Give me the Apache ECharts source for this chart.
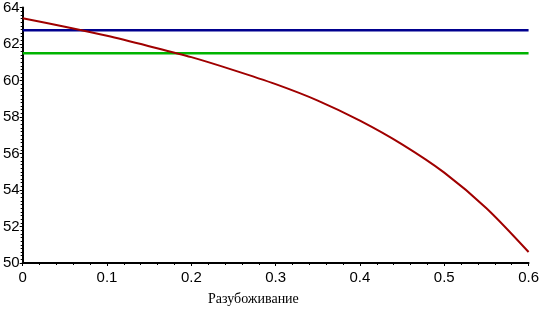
<!DOCTYPE html>
<html>
<head>
<meta charset="utf-8">
<script src="https://cdn.jsdelivr.net/npm/echarts@6/dist/echarts.min.js"></script>
<style>
  html, body { margin: 0; padding: 0; background: #fff; }
  #chart { width: 542px; height: 310px; }
</style>
</head>
<body>
<div id="chart"></div>
<script>
  // дробь разубоживания и значения кривой
  const dilution = [0, 0.05, 0.1, 0.15, 0.2, 0.25, 0.3, 0.35, 0.4, 0.45, 0.5, 0.55, 0.6];
  const curveValues = [63.41, 62.95, 62.45, 61.88, 61.28, 60.57, 59.8, 58.9, 57.8, 56.5, 54.95, 53.0, 50.6];
  const blueLevel = [62.75, 62.75];
  const greenLevel = [61.5, 61.5];
  const levelX = [0, 0.6];
  const xTicks = [0, 0.1, 0.2, 0.3, 0.4, 0.5, 0.6];
  const yTicks = [50, 52, 54, 56, 58, 60, 62, 64];

  const chart = echarts.init(document.getElementById('chart'));
  const axisFont = { fontFamily: 'Liberation Sans, Arial', fontSize: 15, color: '#000' };

  chart.setOption({
    animation: false,
    grid: { left: 20, right: 9, top: 4, bottom: 47, containLabel: false },
    xAxis: {
      type: 'value',
      min: xTicks[0],
      max: xTicks[xTicks.length - 1],
      interval: 0.1,
      splitLine: { show: false },
      axisLine: { lineStyle: { color: '#000', width: 2 } },
      axisTick: { length: 3, lineStyle: { color: '#000' } },
      minorTick: { show: true, splitNumber: 5, length: 2, lineStyle: { color: '#000' } },
      axisLabel: Object.assign({ margin: 7 }, axisFont)
    },
    yAxis: {
      type: 'value',
      min: yTicks[0],
      max: yTicks[yTicks.length - 1],
      interval: 2,
      splitLine: { show: false },
      axisLine: { show: true, lineStyle: { color: '#000', width: 2 } },
      axisTick: { show: true, length: 3, lineStyle: { color: '#000' } },
      minorTick: { show: true, splitNumber: 10, length: 2, lineStyle: { color: '#000' } },
      axisLabel: Object.assign({ margin: 3 }, axisFont)
    },
    graphic: [{
      type: 'text',
      left: 208,
      top: 292,
      style: { text: 'Разубоживание', font: '14px "Liberation Serif", "Times New Roman", serif', fill: '#000' }
    }],
    series: [
      {
        type: 'line',
        data: levelX.map((x, i) => [x, blueLevel[i]]),
        symbol: 'none',
        lineStyle: { color: '#00008f', width: 2.5 }
      },
      {
        type: 'line',
        data: levelX.map((x, i) => [x, greenLevel[i]]),
        symbol: 'none',
        lineStyle: { color: '#00b400', width: 2.5 }
      },
      {
        type: 'line',
        data: dilution.map((x, i) => [x, curveValues[i]]),
        symbol: 'none',
        smooth: 0.3,
        lineStyle: { color: '#a00000', width: 2 }
      }
    ]
  });
</script>
</body>
</html>
